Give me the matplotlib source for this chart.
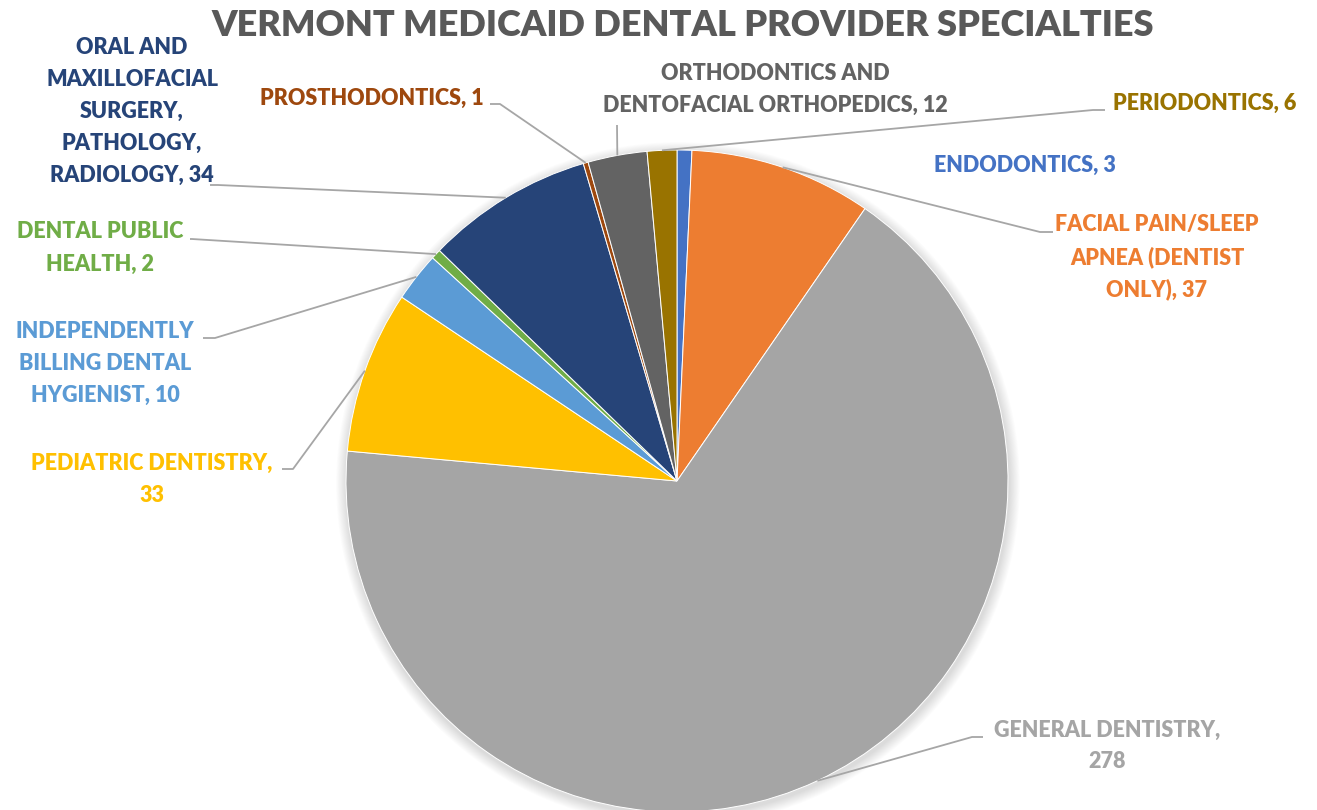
import matplotlib
matplotlib.use("Agg")
import matplotlib.pyplot as plt
from matplotlib.patches import Circle
import numpy as np

plt.rcParams['font.family'] = ['Lato', 'DejaVu Sans']

title = "VERMONT MEDICAID DENTAL PROVIDER SPECIALTIES"
categories = ["ENDODONTICS", "FACIAL PAIN/SLEEP APNEA (DENTIST ONLY)", "GENERAL DENTISTRY",
              "PEDIATRIC DENTISTRY", "INDEPENDENTLY BILLING DENTAL HYGIENIST", "DENTAL PUBLIC HEALTH",
              "ORAL AND MAXILLOFACIAL SURGERY, PATHOLOGY, RADIOLOGY", "PROSTHODONTICS",
              "ORTHODONTICS AND DENTOFACIAL ORTHOPEDICS", "PERIODONTICS"]
values = [3, 37, 278, 33, 10, 2, 34, 1, 12, 6]
colors = ["#4472C4", "#ED7D31", "#A5A5A5", "#FFC000", "#5B9BD5", "#70AD47",
          "#264478", "#9E480E", "#636363", "#997300"]
# wrapped label text (category name, value)
label_lines = [
    ["ENDODONTICS, {v}"],
    ["FACIAL PAIN/SLEEP", "APNEA (DENTIST", "ONLY), {v}"],
    ["GENERAL DENTISTRY,", "{v}"],
    ["PEDIATRIC DENTISTRY,", "{v}"],
    ["INDEPENDENTLY", "BILLING DENTAL", "HYGIENIST, {v}"],
    ["DENTAL PUBLIC", "HEALTH, {v}"],
    ["ORAL AND", "MAXILLOFACIAL", "SURGERY,", "PATHOLOGY,", "RADIOLOGY, {v}"],
    ["PROSTHODONTICS, {v}"],
    ["ORTHODONTICS AND", "DENTOFACIAL ORTHOPEDICS, {v}"],
    ["PERIODONTICS, {v}"],
]

# ---- layout (pixel coordinates) ----
W, H = 1317, 810
cx, cy, R = 677, 481, 331
# label centre (x, y of first line) and leader elbow points (None = no leader)
label_pos = [(1025, 165), (1157, 225), (1107, 730), (152, 463), (105, 331),
             (100, 232), (132, 47), (372, 98), (775, 73), (1205, 103)]
elbows = [None,
          [(1040, 232), (1053, 232)],
          [(972, 737), (983, 737)],
          [(293, 469), (282, 469)],
          [(215, 338), (203, 338)],
          [(192, 239), (190, 239)],
          [(218, 185), (210, 185)],
          [(500, 104), (490, 104)],
          [(617, 125)],
          [(1093, 110), (1105, 110)]]
line_pitch = 32

fig = plt.figure(figsize=(W / 100, H / 100), dpi=100)
ax = fig.add_axes([0, 0, 1, 1])

# soft shadow
for k in range(12):
    ax.add_patch(Circle((cx + 1, cy + 3), R + 1 + k * 0.9, color="black",
                        alpha=0.012, lw=0, zorder=0))

ax.pie(values, colors=colors, startangle=270, counterclock=True,
       center=(cx, cy), radius=R,
       wedgeprops=dict(edgecolor="white", linewidth=0.7, zorder=2))

ax.set_xlim(0, W)
ax.set_ylim(H, 0)
ax.set_aspect("equal")
ax.axis("off")

total = sum(values)
cum = np.cumsum([0] + values[:-1])
for i, v in enumerate(values):
    theta = np.deg2rad(270 + 360 * (cum[i] + v / 2) / total)
    px, py = cx + R * np.cos(theta), cy + R * np.sin(theta)
    if elbows[i] is not None:
        xs = [px] + [p[0] for p in elbows[i]]
        ys = [py] + [p[1] for p in elbows[i]]
        ax.plot(xs, ys, color="#A6A6A6", lw=1.3, zorder=3, solid_capstyle="butt")
    lx, ly = label_pos[i]
    for j, ln in enumerate(label_lines[i]):
        ax.text(lx, ly + j * line_pitch, ln.format(v=v), ha="center", va="center",
                fontsize=15.5, fontweight="heavy", color=colors[i], zorder=4)

ax.text(683, 25, title, ha="center", va="center", fontsize=26,
        fontweight="heavy", color="#595959")

fig.savefig("out.png", dpi=100)
